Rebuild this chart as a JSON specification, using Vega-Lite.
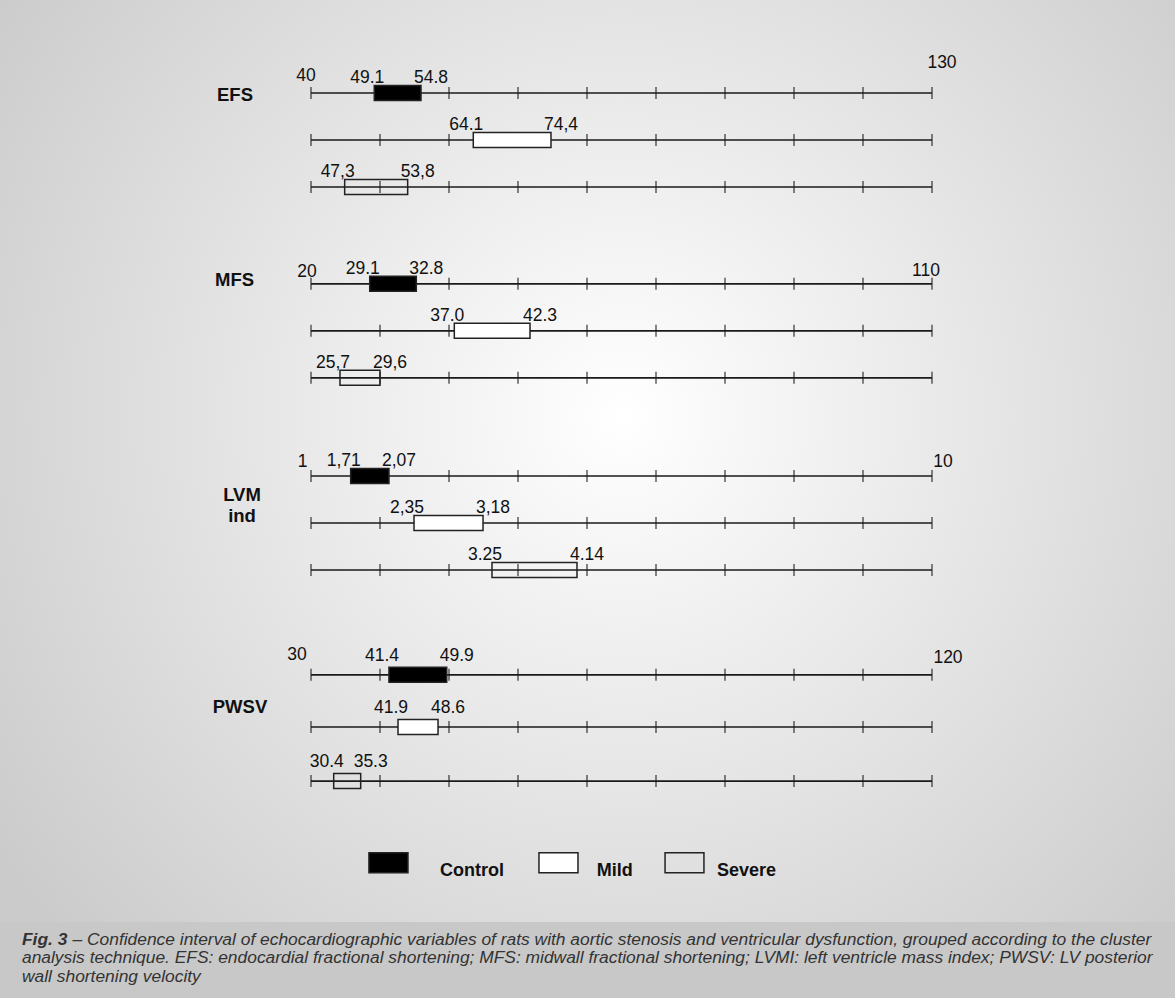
{
  "$schema": "https://vega.github.io/schema/vega-lite/v6.json",
  "width": 1175,
  "height": 998,
  "autosize": "none",
  "padding": 0,
  "background": "#dcdcdc",
  "config": {
    "view": {
      "stroke": null,
      "fill": {"gradient": "radial", "x1": 0.53, "y1": 0.43, "x2": 0.53, "y2": 0.43, "r1": 0, "r2": 0.65,
        "stops": [{"offset": 0, "color": "#ffffff"}, {"offset": 1, "color": "#cbcbcb"}]}
    },
    "scale": {"continuousPadding": 0},
    "text": {"font": "Liberation Sans"}
  },
  "datasets": {
    "efs": [
      {"group": "Control", "slot": 0, "lo": 49.17, "hi": 55.94, "lo_label": "49.1", "hi_label": "54.8", "amin": 40, "amax": 130, "ticks": [40, 50, 60, 70, 80, 90, 100, 110, 120, 130]},
      {"group": "Mild", "slot": 1, "lo": 63.52, "hi": 74.78, "lo_label": "64.1", "hi_label": "74,4", "amin": 40, "amax": 130, "ticks": [40, 50, 60, 70, 80, 90, 100, 110, 120, 130]},
      {"group": "Severe", "slot": 2, "lo": 44.88, "hi": 54.01, "lo_label": "47,3", "hi_label": "53,8", "amin": 40, "amax": 130, "ticks": [40, 50, 60, 70, 80, 90, 100, 110, 120, 130]}
    ],
    "mfs": [
      {"group": "Control", "slot": 4.06, "lo": 28.51, "hi": 35.26, "lo_label": "29.1", "hi_label": "32.8", "amin": 20, "amax": 110, "ticks": [20, 30, 40, 50, 60, 70, 80, 90, 100, 110]},
      {"group": "Mild", "slot": 5.06, "lo": 40.77, "hi": 51.74, "lo_label": "37.0", "hi_label": "42.3", "amin": 20, "amax": 110, "ticks": [20, 30, 40, 50, 60, 70, 80, 90, 100, 110]},
      {"group": "Severe", "slot": 6.06, "lo": 24.2, "hi": 30.0, "lo_label": "25,7", "hi_label": "29,6", "amin": 20, "amax": 110, "ticks": [20, 30, 40, 50, 60, 70, 80, 90, 100, 110]}
    ],
    "lvm": [
      {"group": "Control", "slot": 8.15, "lo": 1.575, "hi": 2.13, "lo_label": "1,71", "hi_label": "2,07", "amin": 1, "amax": 10, "ticks": [1, 2, 3, 4, 5, 6, 7, 8, 9, 10]},
      {"group": "Mild", "slot": 9.15, "lo": 2.493, "hi": 3.493, "lo_label": "2,35", "hi_label": "3,18", "amin": 1, "amax": 10, "ticks": [1, 2, 3, 4, 5, 6, 7, 8, 9, 10]},
      {"group": "Severe", "slot": 10.15, "lo": 3.623, "hi": 4.855, "lo_label": "3.25", "hi_label": "4.14", "amin": 1, "amax": 10, "ticks": [1, 2, 3, 4, 5, 6, 7, 8, 9, 10]}
    ],
    "pwsv": [
      {"group": "Control", "slot": 12.38, "lo": 41.3, "hi": 49.67, "lo_label": "41.4", "hi_label": "49.9", "amin": 30, "amax": 120, "ticks": [30, 40, 50, 60, 70, 80, 90, 100, 110, 120]},
      {"group": "Mild", "slot": 13.49, "lo": 42.61, "hi": 48.41, "lo_label": "41.9", "hi_label": "48.6", "amin": 30, "amax": 120, "ticks": [30, 40, 50, 60, 70, 80, 90, 100, 110, 120]},
      {"group": "Severe", "slot": 14.64, "lo": 33.29, "hi": 37.2, "lo_label": "30.4", "hi_label": "35.3", "amin": 30, "amax": 120, "ticks": [30, 40, 50, 60, 70, 80, 90, 100, 110, 120]}
    ],
    "legend": [
      {"group": "Control", "x0": 0.314, "x1": 0.3472, "tx": 0.3745, "slot": 16.38},
      {"group": "Mild", "x0": 0.4587, "x1": 0.4919, "tx": 0.5078, "slot": 16.38},
      {"group": "Severe", "x0": 0.566, "x1": 0.5991, "tx": 0.6102, "slot": 16.38}
    ],
    "band": [{"y0": 17.64, "y1": 19.255}],
    "caption": [
      {"kind": "bold", "x": 0.0187, "slot": 18.128, "text": "Fig. 3"},
      {"kind": "normal", "x": 0.0617, "slot": 18.128, "text": "– Confidence interval of echocardiographic variables of rats with aortic stenosis and ventricular dysfunction, grouped according to the cluster"},
      {"kind": "normal", "x": 0.0187, "slot": 18.511, "text": "analysis technique. EFS:  endocardial fractional shortening; MFS: midwall fractional shortening; LVMI: left ventricle mass index; PWSV: LV posterior"},
      {"kind": "normal", "x": 0.0187, "slot": 18.915, "text": "wall shortening velocity"}
    ]
  },
  "resolve": {"scale": {"x": "independent"}},
  "layer": [
    {
      "data": {"name": "efs"},
      "encoding": {"y": {"field": "slot", "type": "quantitative", "axis": null, "scale": {"domain": [-1.979, 19.255], "reverse": true, "zero": false, "nice": false, "padding": 0}}},
      "layer": [
        {"mark": {"type": "rule", "color": "#1a1a1a", "strokeWidth": 1.6}, "encoding": {"x": {"field": "amin", "type": "quantitative", "axis": null, "scale": {"domain": [40, 130], "range": [311, 932], "zero": false, "nice": false}}, "x2": {"field": "amax"}}},
        {"transform": [{"flatten": ["ticks"]}], "mark": {"type": "tick", "orient": "vertical", "color": "#1a1a1a", "thickness": 1.5, "size": 12}, "encoding": {"x": {"field": "ticks", "type": "quantitative"}}},
        {"mark": {"type": "bar", "size": 15, "stroke": "#222222", "strokeWidth": 1.5}, "encoding": {"x": {"field": "lo", "type": "quantitative"}, "x2": {"field": "hi"}, "fill": {"field": "group", "type": "nominal", "legend": null, "scale": {"domain": ["Control", "Mild", "Severe"], "range": ["#000000", "#ffffff", "rgba(0,0,0,0)"]}}}},
        {"mark": {"type": "text", "fontSize": 17.5, "fill": "#111111", "align": "center", "baseline": "alphabetic", "dx": -7, "dy": -10}, "encoding": {"x": {"field": "lo", "type": "quantitative"}, "text": {"field": "lo_label"}}},
        {"mark": {"type": "text", "fontSize": 17.5, "fill": "#111111", "align": "center", "baseline": "alphabetic", "dx": 10, "dy": -10}, "encoding": {"x": {"field": "hi", "type": "quantitative"}, "text": {"field": "hi_label"}}},
        {"transform": [{"filter": "datum.group === 'Control'"}], "mark": {"type": "text", "fontSize": 17.5, "fill": "#111111", "align": "center", "baseline": "alphabetic", "dx": -5, "dy": -12}, "encoding": {"x": {"field": "amin", "type": "quantitative"}, "text": {"field": "amin", "type": "nominal"}}},
        {"transform": [{"filter": "datum.group === 'Control'"}], "mark": {"type": "text", "fontSize": 17.5, "fill": "#111111", "align": "center", "baseline": "alphabetic", "dx": 10, "dy": -25}, "encoding": {"x": {"field": "amax", "type": "quantitative"}, "text": {"field": "amax", "type": "nominal"}}},
        {"transform": [{"filter": "datum.group === 'Control'"}], "mark": {"type": "text", "fontSize": 18.5, "fontWeight": "bold", "fill": "#111111", "align": "center", "baseline": "alphabetic", "dx": -76, "dy": 8}, "encoding": {"x": {"field": "amin", "type": "quantitative"}, "text": {"value": "EFS"}}}
      ]
    },
    {
      "data": {"name": "mfs"},
      "encoding": {"y": {"field": "slot", "type": "quantitative", "axis": null, "scale": {"domain": [-1.979, 19.255], "reverse": true, "zero": false, "nice": false, "padding": 0}}},
      "layer": [
        {"mark": {"type": "rule", "color": "#1a1a1a", "strokeWidth": 1.6}, "encoding": {"x": {"field": "amin", "type": "quantitative", "axis": null, "scale": {"domain": [20, 110], "range": [311, 932], "zero": false, "nice": false}}, "x2": {"field": "amax"}}},
        {"transform": [{"flatten": ["ticks"]}], "mark": {"type": "tick", "orient": "vertical", "color": "#1a1a1a", "thickness": 1.5, "size": 12}, "encoding": {"x": {"field": "ticks", "type": "quantitative"}}},
        {"mark": {"type": "bar", "size": 15, "stroke": "#222222", "strokeWidth": 1.5}, "encoding": {"x": {"field": "lo", "type": "quantitative"}, "x2": {"field": "hi"}, "fill": {"field": "group", "type": "nominal", "legend": null, "scale": {"domain": ["Control", "Mild", "Severe"], "range": ["#000000", "#ffffff", "rgba(0,0,0,0)"]}}}},
        {"mark": {"type": "text", "fontSize": 17.5, "fill": "#111111", "align": "center", "baseline": "alphabetic", "dx": -7, "dy": -10}, "encoding": {"x": {"field": "lo", "type": "quantitative"}, "text": {"field": "lo_label"}}},
        {"mark": {"type": "text", "fontSize": 17.5, "fill": "#111111", "align": "center", "baseline": "alphabetic", "dx": 10, "dy": -10}, "encoding": {"x": {"field": "hi", "type": "quantitative"}, "text": {"field": "hi_label"}}},
        {"transform": [{"filter": "datum.group === 'Control'"}], "mark": {"type": "text", "fontSize": 17.5, "fill": "#111111", "align": "center", "baseline": "alphabetic", "dx": -4, "dy": -7}, "encoding": {"x": {"field": "amin", "type": "quantitative"}, "text": {"field": "amin", "type": "nominal"}}},
        {"transform": [{"filter": "datum.group === 'Control'"}], "mark": {"type": "text", "fontSize": 17.5, "fill": "#111111", "align": "center", "baseline": "alphabetic", "dx": -6, "dy": -8}, "encoding": {"x": {"field": "amax", "type": "quantitative"}, "text": {"field": "amax", "type": "nominal"}}},
        {"transform": [{"filter": "datum.group === 'Control'"}], "mark": {"type": "text", "fontSize": 18.5, "fontWeight": "bold", "fill": "#111111", "align": "center", "baseline": "alphabetic", "dx": -76.5, "dy": 2}, "encoding": {"x": {"field": "amin", "type": "quantitative"}, "text": {"value": "MFS"}}}
      ]
    },
    {
      "data": {"name": "lvm"},
      "encoding": {"y": {"field": "slot", "type": "quantitative", "axis": null, "scale": {"domain": [-1.979, 19.255], "reverse": true, "zero": false, "nice": false, "padding": 0}}},
      "layer": [
        {"mark": {"type": "rule", "color": "#1a1a1a", "strokeWidth": 1.6}, "encoding": {"x": {"field": "amin", "type": "quantitative", "axis": null, "scale": {"domain": [1, 10], "range": [311, 932], "zero": false, "nice": false}}, "x2": {"field": "amax"}}},
        {"transform": [{"flatten": ["ticks"]}], "mark": {"type": "tick", "orient": "vertical", "color": "#1a1a1a", "thickness": 1.5, "size": 12}, "encoding": {"x": {"field": "ticks", "type": "quantitative"}}},
        {"mark": {"type": "bar", "size": 15, "stroke": "#222222", "strokeWidth": 1.5}, "encoding": {"x": {"field": "lo", "type": "quantitative"}, "x2": {"field": "hi"}, "fill": {"field": "group", "type": "nominal", "legend": null, "scale": {"domain": ["Control", "Mild", "Severe"], "range": ["#000000", "#ffffff", "rgba(0,0,0,0)"]}}}},
        {"mark": {"type": "text", "fontSize": 17.5, "fill": "#111111", "align": "center", "baseline": "alphabetic", "dx": -7, "dy": -10}, "encoding": {"x": {"field": "lo", "type": "quantitative"}, "text": {"field": "lo_label"}}},
        {"mark": {"type": "text", "fontSize": 17.5, "fill": "#111111", "align": "center", "baseline": "alphabetic", "dx": 10, "dy": -10}, "encoding": {"x": {"field": "hi", "type": "quantitative"}, "text": {"field": "hi_label"}}},
        {"transform": [{"filter": "datum.group === 'Control'"}], "mark": {"type": "text", "fontSize": 17.5, "fill": "#111111", "align": "center", "baseline": "alphabetic", "dx": -8.5, "dy": -9}, "encoding": {"x": {"field": "amin", "type": "quantitative"}, "text": {"field": "amin", "type": "nominal"}}},
        {"transform": [{"filter": "datum.group === 'Control'"}], "mark": {"type": "text", "fontSize": 17.5, "fill": "#111111", "align": "center", "baseline": "alphabetic", "dx": 11, "dy": -9}, "encoding": {"x": {"field": "amax", "type": "quantitative"}, "text": {"field": "amax", "type": "nominal"}}},
        {"transform": [{"filter": "datum.group === 'Control'"}], "mark": {"type": "text", "fontSize": 18.5, "fontWeight": "bold", "fill": "#111111", "align": "center", "baseline": "alphabetic", "dx": -69, "dy": 25, "lineHeight": 21}, "encoding": {"x": {"field": "amin", "type": "quantitative"}, "text": {"value": ["LVM", "ind"]}}}
      ]
    },
    {
      "data": {"name": "pwsv"},
      "encoding": {"y": {"field": "slot", "type": "quantitative", "axis": null, "scale": {"domain": [-1.979, 19.255], "reverse": true, "zero": false, "nice": false, "padding": 0}}},
      "layer": [
        {"mark": {"type": "rule", "color": "#1a1a1a", "strokeWidth": 1.6}, "encoding": {"x": {"field": "amin", "type": "quantitative", "axis": null, "scale": {"domain": [30, 120], "range": [311, 932], "zero": false, "nice": false}}, "x2": {"field": "amax"}}},
        {"transform": [{"flatten": ["ticks"]}], "mark": {"type": "tick", "orient": "vertical", "color": "#1a1a1a", "thickness": 1.5, "size": 12}, "encoding": {"x": {"field": "ticks", "type": "quantitative"}}},
        {"mark": {"type": "bar", "size": 15, "stroke": "#222222", "strokeWidth": 1.5}, "encoding": {"x": {"field": "lo", "type": "quantitative"}, "x2": {"field": "hi"}, "fill": {"field": "group", "type": "nominal", "legend": null, "scale": {"domain": ["Control", "Mild", "Severe"], "range": ["#000000", "#ffffff", "rgba(0,0,0,0)"]}}}},
        {"mark": {"type": "text", "fontSize": 17.5, "fill": "#111111", "align": "center", "baseline": "alphabetic", "dx": -7, "dy": -14}, "encoding": {"x": {"field": "lo", "type": "quantitative"}, "text": {"field": "lo_label"}}},
        {"mark": {"type": "text", "fontSize": 17.5, "fill": "#111111", "align": "center", "baseline": "alphabetic", "dx": 10, "dy": -14}, "encoding": {"x": {"field": "hi", "type": "quantitative"}, "text": {"field": "hi_label"}}},
        {"transform": [{"filter": "datum.group === 'Control'"}], "mark": {"type": "text", "fontSize": 17.5, "fill": "#111111", "align": "center", "baseline": "alphabetic", "dx": -14, "dy": -15}, "encoding": {"x": {"field": "amin", "type": "quantitative"}, "text": {"field": "amin", "type": "nominal"}}},
        {"transform": [{"filter": "datum.group === 'Control'"}], "mark": {"type": "text", "fontSize": 17.5, "fill": "#111111", "align": "center", "baseline": "alphabetic", "dx": 16, "dy": -12}, "encoding": {"x": {"field": "amax", "type": "quantitative"}, "text": {"field": "amax", "type": "nominal"}}},
        {"transform": [{"filter": "datum.group === 'Control'"}], "mark": {"type": "text", "fontSize": 18.5, "fontWeight": "bold", "fill": "#111111", "align": "center", "baseline": "alphabetic", "dx": -71, "dy": 38}, "encoding": {"x": {"field": "amin", "type": "quantitative"}, "text": {"value": "PWSV"}}}
      ]
    },
    {
      "layer": [
        {
          "data": {"name": "band"},
          "mark": {"type": "rect", "fill": "#c8c8c8"},
          "encoding": {
            "x": {"value": 0}, "x2": {"value": "width"},
            "y": {"field": "y0", "type": "quantitative", "axis": null, "scale": {"domain": [-1.979, 19.255], "reverse": true, "zero": false, "nice": false, "padding": 0}},
            "y2": {"field": "y1"}
          }
        },
        {
          "data": {"name": "legend"},
          "mark": {"type": "bar", "size": 20, "stroke": "#222222", "strokeWidth": 1.5},
          "encoding": {
            "x": {"field": "x0", "type": "quantitative", "axis": null, "scale": {"domain": [0, 1], "zero": false, "nice": false}},
            "x2": {"field": "x1"},
            "y": {"field": "slot", "type": "quantitative", "axis": null, "scale": {"domain": [-1.979, 19.255], "reverse": true, "zero": false, "nice": false, "padding": 0}},
            "fill": {"field": "group", "type": "nominal", "legend": null, "scale": {"domain": ["Control", "Mild", "Severe"], "range": ["#000000", "#ffffff", "rgba(0,0,0,0)"]}}
          }
        },
        {
          "data": {"name": "legend"},
          "mark": {"type": "text", "fontSize": 18, "fontWeight": "bold", "fill": "#111111", "align": "left", "baseline": "alphabetic", "dy": 13},
          "encoding": {
            "x": {"field": "tx", "type": "quantitative"},
            "y": {"field": "slot", "type": "quantitative"},
            "text": {"field": "group"}
          }
        },
        {
          "data": {"name": "caption"},
          "transform": [{"filter": "datum.kind === 'bold'"}],
          "mark": {"type": "text", "fontSize": 17.4, "fontWeight": "bold", "fontStyle": "italic", "fill": "#333333", "align": "left", "baseline": "alphabetic"},
          "encoding": {
            "x": {"field": "x", "type": "quantitative"},
            "y": {"field": "slot", "type": "quantitative"},
            "text": {"field": "text"}
          }
        },
        {
          "data": {"name": "caption"},
          "transform": [{"filter": "datum.kind === 'normal'"}],
          "mark": {"type": "text", "fontSize": 17.4, "fontStyle": "italic", "fill": "#333333", "align": "left", "baseline": "alphabetic"},
          "encoding": {
            "x": {"field": "x", "type": "quantitative"},
            "y": {"field": "slot", "type": "quantitative"},
            "text": {"field": "text"}
          }
        }
      ]
    }
  ]
}
